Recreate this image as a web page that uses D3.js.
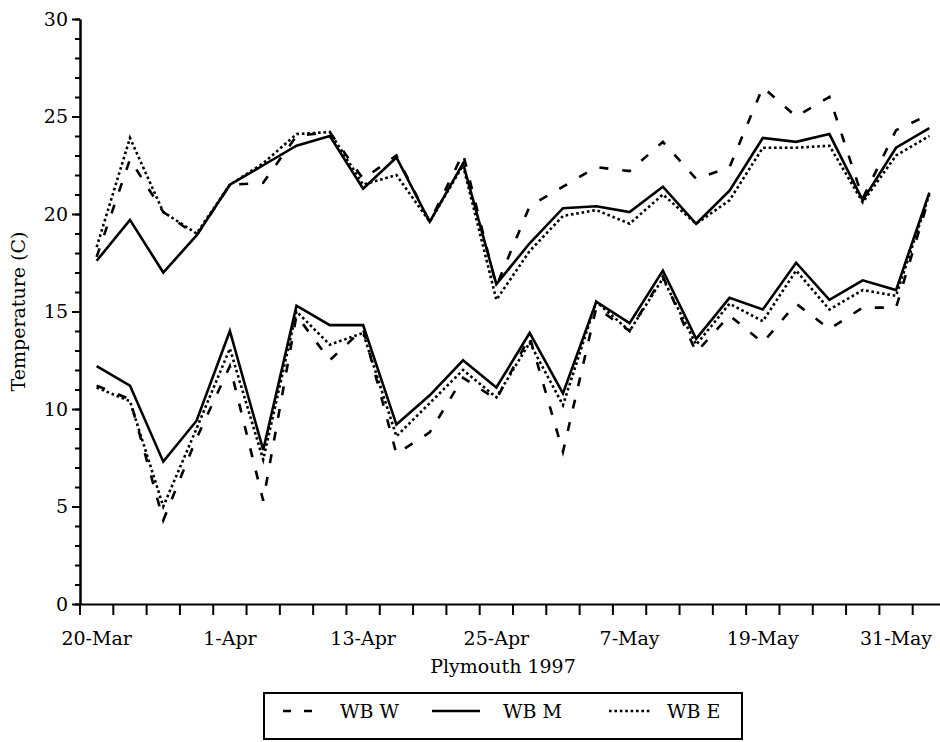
<!DOCTYPE html>
<html>
<head>
<meta charset="utf-8">
<script src="https://cdn.jsdelivr.net/npm/d3@7"></script>
<style>
    body { margin: 0; background: #fff; }
    svg { display: block; font-family: "DejaVu Serif", "Liberation Serif", serif; }
    .axis text { font-family: "DejaVu Serif", "Liberation Serif", serif; font-size: 19px; fill: #000; }
    .axis path, .axis line { stroke: #000; stroke-width: 2; }
    .series { fill: none; stroke: #000; stroke-width: 2.6; stroke-linejoin: miter; }
    .title { font-size: 19px; fill: #000; }
</style>
</head>
<body>
<svg id="chart"></svg>
<script>
// sampling dates, every 3 days (Plymouth 1997)
const dates = ['20-Mar', '23-Mar', '26-Mar', '29-Mar', '1-Apr', '4-Apr', '7-Apr', '10-Apr',
    '13-Apr', '16-Apr', '19-Apr', '22-Apr', '25-Apr', '28-Apr', '1-May', '4-May',
    '7-May', '10-May', '13-May', '16-May', '19-May', '22-May', '25-May', '28-May',
    '31-May', '3-Jun'];

// upper group of curves
const wbWHigh = [17.8, 22.8, 20.1, 18.9, 21.5, 21.6, 24.0, 24.2, 21.8, 23.0, 19.6, 23.1, 16.3,
    20.4, 21.4, 22.4, 22.2, 23.7, 21.8, 22.4, 26.5, 25.0, 26.0, 20.8, 24.3, 25.1];
const wbMHigh = [17.6, 19.7, 17.0, 18.9, 21.5, 22.5, 23.5, 24.0, 21.3, 22.9, 19.6, 22.6, 16.4,
    18.5, 20.3, 20.4, 20.1, 21.4, 19.5, 21.2, 23.9, 23.7, 24.1, 20.7, 23.4, 24.4];
const wbEHigh = [18.3, 23.9, 20.1, 19.0, 21.5, 22.6, 24.1, 24.2, 21.5, 22.0, 19.6, 22.5, 15.6,
    18.1, 19.9, 20.2, 19.5, 21.0, 19.5, 20.7, 23.4, 23.4, 23.5, 20.6, 23.0, 24.0];

// lower group of curves
const wbWLow = [11.2, 10.5, 4.3, 8.5, 12.2, 5.3, 14.8, 12.5, 14.1, 7.7, 8.8, 11.6, 10.5,
    13.7, 7.8, 15.2, 14.0, 16.8, 12.9, 14.8, 13.4, 15.4, 14.1, 15.2, 15.2, 20.9];
const wbMLow = [12.2, 11.2, 7.3, 9.4, 14.0, 7.9, 15.3, 14.3, 14.3, 9.2, 10.7, 12.5, 11.1,
    13.9, 10.8, 15.5, 14.4, 17.1, 13.6, 15.7, 15.1, 17.5, 15.6, 16.6, 16.1, 21.1];
const wbELow = [11.1, 10.4, 5.0, 9.0, 13.1, 7.4, 15.0, 13.3, 13.9, 8.6, 10.3, 12.0, 10.6,
    13.4, 10.2, 15.5, 14.0, 16.7, 13.3, 15.4, 14.5, 17.1, 15.1, 16.1, 15.8, 21.0];

const yMajorTicks = [0, 5, 10, 15, 20, 25, 30];
const legendNames = ['WB W', 'WB M', 'WB E'];

const dashStyles = {
    'WB W': '9,14',
    'WB M': null,
    'WB E': '2.6,2.8'
};

const series = [
    {name: 'WB W', values: wbWHigh}, {name: 'WB M', values: wbMHigh}, {name: 'WB E', values: wbEHigh},
    {name: 'WB W', values: wbWLow}, {name: 'WB M', values: wbMLow}, {name: 'WB E', values: wbELow}
];

const width = 940, height = 742;
const plot = {left: 80, right: 946, top: 19, bottom: 604};

const svg = d3.select('#chart')
    .attr('width', width)
    .attr('height', height);

// category axis: points sit in the middle of each band, ticks between bands
const x = d3.scaleBand()
    .domain(dates)
    .range([plot.left, plot.right])
    .paddingInner(0)
    .paddingOuter(0);

const y = d3.scaleLinear()
    .domain([0, 30])
    .range([plot.bottom, plot.top]);

const xCenter = d => x(d) + x.bandwidth() / 2;

// Y axis, minor ticks every degree then major ticks with labels
svg.append('g')
    .attr('class', 'axis y-minor')
    .attr('transform', `translate(${plot.left},0)`)
    .call(d3.axisLeft(y).tickValues(d3.range(0, 31)).tickSize(5).tickSizeOuter(0).tickFormat(''));

svg.append('g')
    .attr('class', 'axis y-axis')
    .attr('transform', `translate(${plot.left},0)`)
    .call(d3.axisLeft(y).tickValues(yMajorTicks).tickSize(8).tickSizeOuter(0).tickPadding(4));

// X axis: labels every fourth category, centred in the band
const xAxisG = svg.append('g')
    .attr('class', 'axis x-axis')
    .attr('transform', `translate(0,${plot.bottom})`)
    .call(d3.axisBottom(x)
        .tickValues(dates.filter((d, i) => i % 4 === 0))
        .tickSize(0)
        .tickSizeOuter(0));

xAxisG.selectAll('.tick text')
    .attr('y', 41)
    .attr('dy', 0);

xAxisG.selectAll('line.band-tick')
    .data(dates)
    .join('line')
    .attr('class', 'band-tick')
    .attr('x1', d => x(d))
    .attr('x2', d => x(d))
    .attr('y1', 0)
    .attr('y2', 11);

// Lines
const line = d3.line()
    .x((v, i) => xCenter(dates[i]))
    .y(v => y(v));

svg.append('g')
    .selectAll('path')
    .data(series)
    .join('path')
    .attr('class', 'series')
    .attr('stroke-dasharray', d => dashStyles[d.name])
    .attr('d', d => line(d.values));

// Axis titles
svg.append('text')
    .attr('class', 'title')
    .attr('x', 503)
    .attr('y', 673)
    .attr('text-anchor', 'middle')
    .text('Plymouth 1997');

svg.append('text')
    .attr('class', 'title')
    .attr('transform', `translate(25,${(plot.top + plot.bottom) / 2}) rotate(-90)`)
    .attr('text-anchor', 'middle')
    .text('Temperature (C)');

// Legend
const legend = svg.append('g').attr('class', 'legend');

legend.append('rect')
    .attr('x', 264)
    .attr('y', 693)
    .attr('width', 478)
    .attr('height', 46)
    .attr('fill', 'none')
    .attr('stroke', '#000')
    .attr('stroke-width', 2);

const legendItems = [
    {name: legendNames[0], x1: 283, x2: 313, tx: 340},
    {name: legendNames[1], x1: 432, x2: 480, tx: 503},
    {name: legendNames[2], x1: 609, x2: 652, tx: 667}
];

legend.selectAll('line')
    .data(legendItems)
    .join('line')
    .attr('x1', d => d.x1)
    .attr('x2', d => d.x2)
    .attr('y1', 711)
    .attr('y2', 711)
    .attr('stroke', '#000')
    .attr('stroke-width', 2.6)
    .attr('stroke-dasharray', d => d.name === 'WB W' ? '8,13' : dashStyles[d.name]);

legend.selectAll('text')
    .data(legendItems)
    .join('text')
    .attr('class', 'title')
    .attr('x', d => d.tx)
    .attr('y', 718)
    .text(d => d.name);
</script>
</body>
</html>
